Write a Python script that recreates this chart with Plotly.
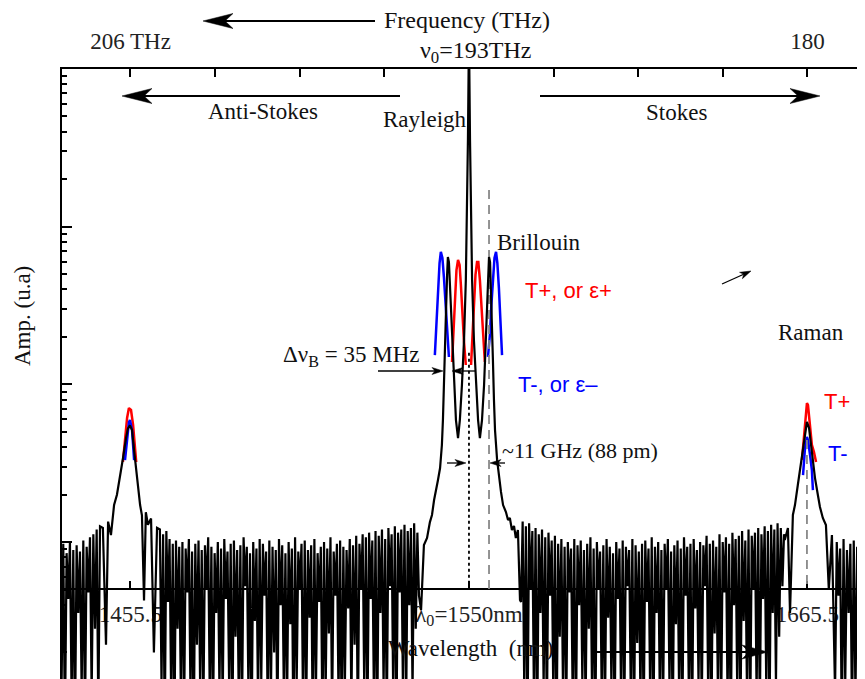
import numpy as np
import plotly.graph_objects as go

# ---------------- data: frequency (THz) and log10 amplitude (a.u.) ----------------
noise_a_span = (208.71, 207.17)
noise_a_log = [0.96, 0.10, 0.99, -0.20, 0.93, 0.64, 1.00, 0.00, 0.95, -0.25, 0.98, 0.55, 0.94,
               0.05, 1.01, -0.15, 0.97, 0.68, 1.03, 0.02, 1.05, 0.45, 1.08, -0.10, 1.10]

antistokes_freq = [207.06, 206.94, 206.86, 206.75, 206.63, 206.52, 206.40, 206.29, 206.17, 206.10,
                   206.02, 205.94, 205.86, 205.75, 205.63, 205.56, 205.48, 205.41, 205.33, 205.21,
                   205.10, 204.98]
antistokes_log = [1.09, 0.35, 1.13, 1.045, 1.235, 1.30, 1.41, 1.53, 1.66, 1.72,
                  1.74, 1.71, 1.58, 1.41, 1.235, 1.17, 0.63, 1.19, 1.11, 1.15,
                  0.30, 1.09]

noise_b_span = (204.87, 194.92)
noise_b_log = [1.08, 0.10, 1.05, -0.20, 1.07, 0.62, 1.02, 0.00, 0.99, -0.25, 1.01, 0.45, 0.97, 0.05, 1.00, -0.15,
               0.96, 0.68, 1.02, 0.02, 0.94, -0.30, 0.99, 0.35, 1.01, 0.08, 0.95, -0.10, 0.98, 0.70, 1.03, 0.00,
               0.97, -0.20, 0.93, 0.55, 1.00, 0.05, 0.96, -0.05, 1.02, 0.64, 0.94, 0.10, 0.99, -0.30, 1.01, 0.40,
               0.95, 0.00, 0.98, -0.15, 1.03, 0.72, 0.97, 0.06, 0.93, -0.25, 1.00, 0.50, 0.96, -0.05, 1.02, 0.12,
               0.99, 0.66, 0.94, -0.10, 1.01, 0.02, 0.97, 0.30, 0.95, -0.20, 1.02, 0.60, 0.98, 0.04, 0.93, -0.08,
               1.00, 0.48, 0.96, -0.28, 1.03, 0.10, 0.94, 0.70, 0.99, -0.12, 1.01, 0.00, 0.95, 0.52, 0.98, -0.22,
               1.02, 0.08, 0.93, 0.62, 0.97, -0.18, 1.00, 0.03, 0.96, 0.42, 1.03, -0.10, 0.94, 0.66, 0.99, 0.00,
               1.01, -0.25, 0.97, 0.12, 0.95, 0.58, 1.02, -0.05, 0.98, 0.35, 1.04, -0.20, 0.99, 0.70, 1.05, 0.05,
               1.03, -0.12, 1.06, 0.64, 1.01, 0.00, 1.07, -0.28, 1.04, 0.55, 1.08, 0.08, 1.02, -0.15, 1.09, 0.72,
               1.05, 0.02, 1.10, -0.20, 1.06, 0.68, 1.08, 0.10, 1.11, -0.10, 1.07, 0.60, 1.09, 0.04, 1.12, 0.45,
               1.06, 0.66]

central_freq = [194.84, 194.73, 194.61, 194.50, 194.42, 194.34, 194.27, 194.19, 194.11, 194.04,
                194.00, 193.96, 193.92, 193.88, 193.84, 193.81, 193.77, 193.73, 193.65, 193.58,
                193.50, 193.42, 193.35, 193.27, 193.19, 193.12, 193.08, 193.04, 193.01, 192.99,
                192.96, 192.92, 192.88, 192.81, 192.73, 192.65, 192.58, 192.50, 192.42, 192.35,
                192.27, 192.23, 192.19, 192.16, 192.12, 192.08, 192.04, 192.00, 191.92, 191.85,
                191.77, 191.69, 191.58, 191.50, 191.43, 191.35, 191.27, 191.20, 191.12, 191.04]
central_log = [0.57, 0.982, 1.026, 1.127, 1.172, 1.267, 1.318, 1.394, 1.470, 1.616,
               1.774, 1.965, 2.218, 2.472, 2.694, 2.808, 2.776, 2.630, 2.313, 1.996,
               1.774, 1.660, 1.774, 1.996, 2.281, 2.662, 3.042, 3.550, 4.060, 4.060,
               3.550, 3.042, 2.662, 2.281, 1.996, 1.774, 1.660, 1.774, 1.996, 2.313,
               2.662, 2.808, 2.776, 2.630, 2.408, 2.155, 1.901, 1.711, 1.521, 1.406,
               1.318, 1.235, 1.191, 1.140, 1.153, 1.077, 1.102, 1.026, 1.077, 0.633]

noise_c_span = (191.00, 180.90)
noise_c_log = [0.62, 1.13, 0.05, 1.10, -0.20, 1.12, 0.70, 1.07, 0.00, 1.09, -0.25, 1.05, 0.55, 1.08, 0.08, 1.03,
               -0.15, 1.06, 0.66, 1.01, 0.02, 1.04, -0.30, 0.99, 0.40, 1.02, 0.06, 0.97, -0.12, 1.00, 0.68, 0.96,
               0.00, 1.02, -0.22, 0.98, 0.60, 1.01, 0.10, 0.95, -0.08, 0.99, 0.45, 1.03, 0.04, 0.96, -0.28, 1.00,
               0.70, 0.94, 0.02, 0.98, -0.15, 1.02, 0.52, 0.97, 0.08, 0.93, -0.20, 1.00, 0.64, 0.96, 0.00, 1.01,
               -0.10, 0.97, 0.72, 0.95, 0.05, 1.02, -0.25, 0.98, 0.36, 0.94, 0.00, 0.99, -0.18, 1.01, 0.62, 0.96,
               0.06, 1.03, -0.30, 0.97, 0.55, 1.00, 0.02, 0.95, -0.12, 0.99, 0.70, 1.02, 0.08, 0.94, -0.22, 0.98,
               0.48, 1.01, 0.00, 0.96, -0.15, 1.03, 0.66, 0.97, 0.04, 0.99, -0.26, 1.02, 0.58, 0.95, 0.10, 1.00,
               -0.08, 0.98, 0.72, 1.04, 0.02, 0.99, -0.20, 1.01, 0.42, 0.97, 0.06, 1.05, -0.12, 1.00, 0.68, 1.03,
               0.00, 0.99, -0.28, 1.06, 0.60, 1.02, 0.05, 1.04, -0.15, 1.07, 0.50, 1.01, 0.08, 1.08, -0.22, 1.04,
               0.70, 1.06, 0.02, 1.09, -0.10, 1.05, 0.64, 1.10, 0.06, 1.07, -0.18, 1.11, 0.55, 1.08, 0.10, 1.12,
               0.40, 1.09, 0.72, 1.05]

stokes_freq = [180.87, 180.75, 180.67, 180.56, 180.48, 180.37, 180.29, 180.17, 180.10, 180.02,
               179.94, 179.87, 179.79, 179.71, 179.60, 179.52, 179.41, 179.29, 179.18, 179.06]
stokes_log = [1.013, 1.089, 0.55, 1.172, 1.235, 1.362, 1.457, 1.603, 1.698, 1.762,
              1.724, 1.616, 1.508, 1.406, 1.299, 1.223, 1.153, 1.108, 0.70, 1.045]

noise_d_span = (178.94, 177.70)
noise_d_log = [0.05, 1.00, 0.66, 0.96, -0.20, 1.02, 0.10, 0.95, 0.55, 0.99,
               -0.15, 1.01, 0.02, 0.97, 0.62, 1.03, -0.25, 0.98, 0.08, 1.00]

# T+ (red) and T- (blue): anti-Stokes Raman, Brillouin humps, Stokes Raman
red_freq = [206.29, 206.21, 206.13, 206.06, 205.98, 205.90, 205.82, 205.78, None,
            193.65, 193.60, 193.54, 193.48, 193.42, 193.36, 193.31, 193.25, 193.19, 193.12, None,
            192.92, 192.87, 192.81, 192.75, 192.69, 192.64, 192.58, 192.52, 192.46, 192.39, None,
            180.21, 180.13, 180.06, 180.02, 179.98, 179.90, 179.83, 179.75, 179.67]
red_log = [1.508, 1.647, 1.787, 1.850, 1.838, 1.743, 1.616, 1.508, None,
           2.142, 2.345, 2.567, 2.725, 2.789, 2.757, 2.630, 2.440, 2.269, 2.123, None,
           2.123, 2.294, 2.503, 2.694, 2.776, 2.776, 2.662, 2.472, 2.294, 2.142, None,
           1.521, 1.679, 1.838, 1.882, 1.869, 1.743, 1.616, 1.571, 1.508]

blue_freq = [206.21, 206.13, 206.06, 206.02, 205.94, 205.90, 205.86, None,
             194.31, 194.25, 194.19, 194.13, 194.08, 194.02, 193.96, 193.90, 193.84, 193.77, None,
             192.27, 192.19, 192.14, 192.08, 192.02, 191.96, 191.91, 191.85, 191.79, 191.73, None,
             180.17, 180.10, 180.02, 179.98, 179.90, 179.83, 179.79]
blue_log = [1.52, 1.647, 1.76, 1.774, 1.71, 1.616, 1.52, None,
            2.186, 2.408, 2.611, 2.770, 2.840, 2.802, 2.675, 2.503, 2.326, 2.174, None,
            2.174, 2.326, 2.503, 2.675, 2.802, 2.840, 2.770, 2.611, 2.408, 2.186, None,
            1.425, 1.584, 1.667, 1.647, 1.552, 1.457, 1.330]

# guide lines: nu0 (dotted black), Brillouin & Raman Stokes (dashed grey)
guide_freq = [193.0, 192.23, 180.02]
guide_top_log = [2.2, 3.233, 1.647]
guide_bottom_log = 0.703

freq_ticks = [206, 202.75, 199.5, 196.25, 193, 189.75, 186.5, 183.25, 180]
freq_ticktext = ["206 THz", "", "", "", "", "", "", "", "180"]
wl_ticks = [206, 193, 180]
wl_ticktext = ["1455.5", "λ<sub>0</sub>=1550nm", "1665.5"]
x_range = [208.63, 177.79]
y_log_range = [0.132, 4.0]

# ---------------- build black spectrum ----------------
def seg(span, vals):
    return list(np.linspace(span[0], span[1], len(vals))), list(vals)

parts = [seg(noise_a_span, noise_a_log), (antistokes_freq, antistokes_log),
         seg(noise_b_span, noise_b_log), (central_freq, central_log),
         seg(noise_c_span, noise_c_log), (stokes_freq, stokes_log),
         seg(noise_d_span, noise_d_log)]
spec_f, spec_l = [], []
for f, l in parts:
    spec_f += list(f)
    spec_l += list(l)
spec_amp = [10 ** v for v in spec_l]

def amp(lst):
    return [None if v is None else 10 ** v for v in lst]

SERIF = "Liberation Serif"
SANS = "Liberation Sans"

fig = go.Figure()
fig.add_trace(go.Scatter(x=red_freq, y=amp(red_log), mode="lines",
                         line=dict(color="#ff0000", width=2.5), connectgaps=False))
fig.add_trace(go.Scatter(x=blue_freq, y=amp(blue_log), mode="lines",
                         line=dict(color="#0000ff", width=2.5), connectgaps=False))
for i, f in enumerate(guide_freq):
    fig.add_trace(go.Scatter(x=[f, f], y=[10 ** guide_top_log[i], 10 ** guide_bottom_log], mode="lines",
                             line=dict(color="black" if i == 0 else "#888888", width=1.8,
                                       dash="3px,3px" if i == 0 else "9px,6px")))
fig.add_trace(go.Scatter(x=spec_f, y=spec_amp, mode="lines",
                         line=dict(color="black", width=2.2)))
fig.add_trace(go.Scatter(x=[206, 180], y=[10, 10], mode="markers", marker=dict(opacity=0),
                         xaxis="x2", hoverinfo="skip"))

minor_vals = [k * 10 ** d for d in range(0, 4) for k in range(2, 10)]

# page body has an 8px margin: shift figure so plot area lands at x=62..865, y=69..679
fig.update_layout(
    width=857, height=671,
    margin=dict(l=54, r=0, t=61, b=0),
    paper_bgcolor="white", plot_bgcolor="white",
    showlegend=False,
    xaxis=dict(range=x_range, anchor="free", position=(679 - 589) / 610, side="bottom",
               showline=True, linewidth=2, linecolor="black", ticks="inside", ticklen=7,
               tickwidth=2, tickcolor="black", tickmode="array", tickvals=wl_ticks,
               ticktext=wl_ticktext, tickfont=dict(family=SERIF, size=23, color="#222"),
               showgrid=False, zeroline=False, layer="below traces", ticklabelstandoff=4),
    xaxis2=dict(range=x_range, overlaying="x", side="top", anchor="y",
                showline=True, linewidth=2, linecolor="black", ticks="inside", ticklen=8,
                tickwidth=2, tickcolor="black", tickmode="array", tickvals=freq_ticks,
                ticktext=freq_ticktext, tickfont=dict(family=SERIF, size=23, color="#222"),
                showgrid=False, zeroline=False, ticklabelstandoff=9),
    yaxis=dict(type="log", range=y_log_range, showline=True, linewidth=2, linecolor="black",
               ticks="inside", ticklen=10, tickwidth=2, tickcolor="black", tickmode="array",
               tickvals=[10, 100, 1000, 10000], showticklabels=False, showgrid=False,
               zeroline=False,
               minor=dict(ticks="inside", ticklen=5, tickwidth=2, tickcolor="black",
                          tickmode="array", tickvals=minor_vals, showgrid=False)),
)

def P(x, y):
    return (x - 62) / 803, (679 - y) / 610

def text(x, y, s, size=23, color="#111", family=SERIF, angle=0):
    px, py = P(x, y)
    fig.add_annotation(x=px, y=py, xref="paper", yref="paper", text=s, showarrow=False,
                       font=dict(family=family, size=size, color=color), textangle=angle,
                       xanchor="center", yanchor="middle")

def arrow(hx, hy, tx, ty, L=30, W=7.5, N=8, lw=2, layer="above"):
    dx, dy = hx - tx, hy - ty
    n = (dx * dx + dy * dy) ** 0.5
    ux, uy = dx / n, dy / n
    vx, vy = -uy, ux
    bx, by = hx - ux * (L - N), hy - uy * (L - N)
    x0, y0 = P(tx, ty)
    x1, y1 = P(bx, by)
    fig.add_shape(type="line", xref="paper", yref="paper", x0=x0, y0=y0, x1=x1, y1=y1,
                  line=dict(color="black", width=lw), layer=layer)
    pts = [(hx, hy), (hx - ux * L + vx * W, hy - uy * L + vy * W), (bx, by),
           (hx - ux * L - vx * W, hy - uy * L - vy * W)]
    pp = [P(a, b) for a, b in pts]
    path = "M " + " L ".join(f"{a:.5f} {b:.5f}" for a, b in pp) + " Z"
    fig.add_shape(type="path", xref="paper", yref="paper", path=path, fillcolor="black",
                  line=dict(color="black", width=0.5), layer=layer)

text(467, 20, "Frequency (THz)", size=24)
arrow(203, 21, 375, 21)
text(476, 52, "ν<sub>0</sub>=193THz", size=24)
text(263, 111, "Anti-Stokes", size=23)
arrow(122, 96, 400, 96)
text(676, 112, "Stokes", size=23)
arrow(820, 96, 540, 96)
text(425, 120, "Rayleigh", size=23)
text(539, 242, "Brillouin", size=23)
text(568, 290, "T+, or ε+", size=22, color="#ff0000", family=SANS)
text(558, 384, "T-, or ε–", size=22, color="#0000ff", family=SANS)
text(351, 356, "Δν<sub>B</sub> = 35 MHz", size=23)
arrow(443, 371, 378, 371, L=11, W=3.5, N=3, lw=1.3)
arrow(452, 371, 476, 371, L=11, W=3.5, N=3, lw=1.3)
text(580, 450, "~11 GHz (88 pm)", size=22)
arrow(466, 463, 447, 463, L=11, W=3.5, N=3, lw=1.3)
arrow(490, 463, 505, 463, L=11, W=3.5, N=3, lw=1.3)
text(811, 333, "Raman", size=23)
arrow(751, 271, 722, 284, L=11, W=3.5, N=3, lw=1.3)
text(837, 401, "T+", size=22, color="#ff0000", family=SANS)
text(838, 454, "T-", size=22, color="#0000ff", family=SANS)
text(470, 648, "Wavelength  (nm)", size=23)
text(22, 316, "Amp. (u.a)", size=23, angle=-90)
arrow(768, 652, 595, 652, L=26, W=7, N=7, lw=2, layer="below")

fig.write_html("out.html")
